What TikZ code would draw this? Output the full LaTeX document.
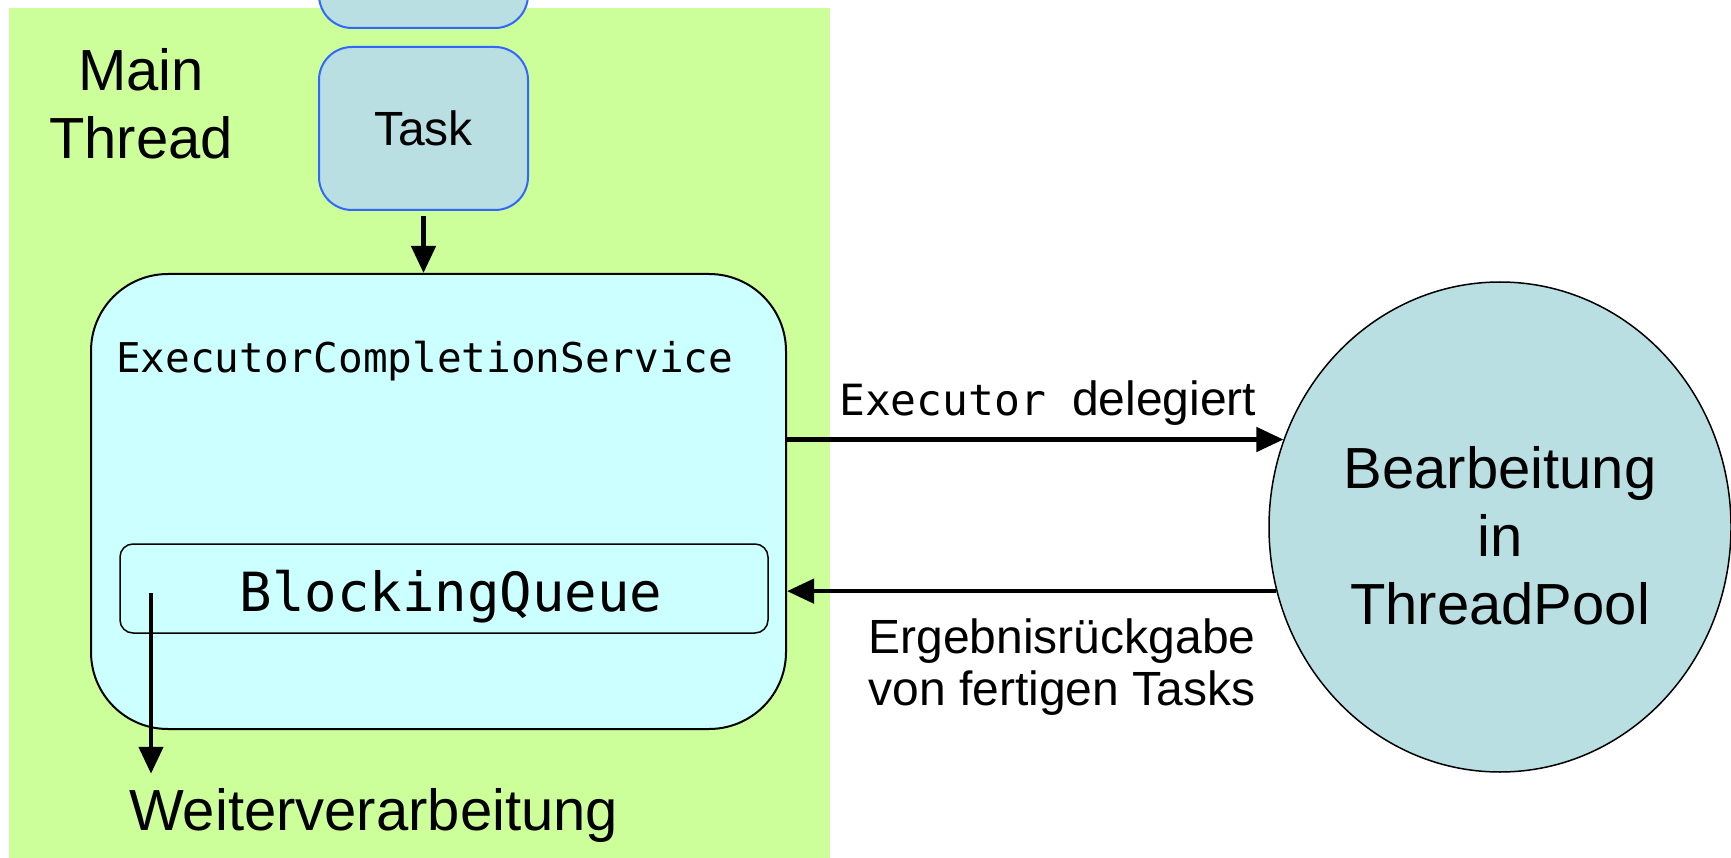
\documentclass[tikz,border=0pt]{standalone}
\usepackage{fontspec}
\setmainfont{Liberation Sans}
\setmonofont{DejaVu Sans Mono}
\usetikzlibrary{arrows.meta,shapes.geometric}

\definecolor{threadgreen}{HTML}{CCFF99}
\definecolor{servicecyan}{HTML}{CCFFFF}
\definecolor{taskblue}{HTML}{B9DFE3}
\definecolor{taskborder}{HTML}{3366FF}

\tikzset{
  taskbox/.style={draw=taskborder, line width=2pt, fill=taskblue, rounded corners=33pt, minimum width=209pt, minimum height=163pt, inner sep=0pt},
  flow/.style={line width=4.5pt, -{Triangle[length=27pt,width=24pt]}},
  bigtext/.style={font=\fontsize{58}{68}\selectfont, inner sep=0pt},
  midtext/.style={font=\fontsize{48}{52}\selectfont, inner sep=0pt}
}

\begin{document}
\begin{tikzpicture}[x=1pt,y=-1pt]
\useasboundingbox (0,0) rectangle (1731,858);

\fill[threadgreen] (9,8) rectangle (830,858);

\node[taskbox] (prevtask) at (423.5,-53.5) {};
\node[taskbox, midtext] (task) at (423.5,128.5) {Task};
\node[bigtext, align=center] (mainlbl) at (141,104) {Main\\Thread};

\node[draw, line width=2pt, fill=servicecyan, rounded corners=77pt, minimum width=695pt, minimum height=455pt] (ecs) at (438.5,501.5) {};
\node[anchor=base west, inner sep=0pt, font=\ttfamily\fontsize{41}{49}\selectfont] (ecsname) at (116,372) {ExecutorCompletionService};
\node[draw, line width=1.5pt, fill=servicecyan, rounded corners=13pt, minimum width=648pt, minimum height=89pt, text height=45pt, text depth=0pt, font=\ttfamily\fontsize{54}{60}\selectfont] (queue) at (444,588.5) {\hspace{14pt}BlockingQueue};

\node[ellipse, draw, line width=1.5pt, fill=taskblue, minimum width=462pt, minimum height=490pt, bigtext, align=center] (pool) at (1500,527) {\rule{0pt}{60pt}Bearbeitung\\in\\ThreadPool};

\node[bigtext, anchor=base west] (weiter) at (129,830) {Weiterverarbeitung};
\node[midtext, anchor=base west] (dellbl) at (839,415) {{\ttfamily\fontsize{43}{49}\selectfont Executor }delegiert};
\node[midtext, align=center] (retlbl) at (1062,667) {Ergebnisrückgabe\\von fertigen Tasks};

\draw[flow] ([yshift=-5pt]task.south) -- (task.south |- ecs.north);
\draw[flow] (ecs.east |- pool.158) -- (pool.158);
\draw[flow] (pool.196) -- (ecs.east |- pool.196);

\coordinate (qout) at (151,593);
\draw[flow, shorten >=14pt] (qout) -- (qout |- weiter.north);

\end{tikzpicture}
\end{document}
